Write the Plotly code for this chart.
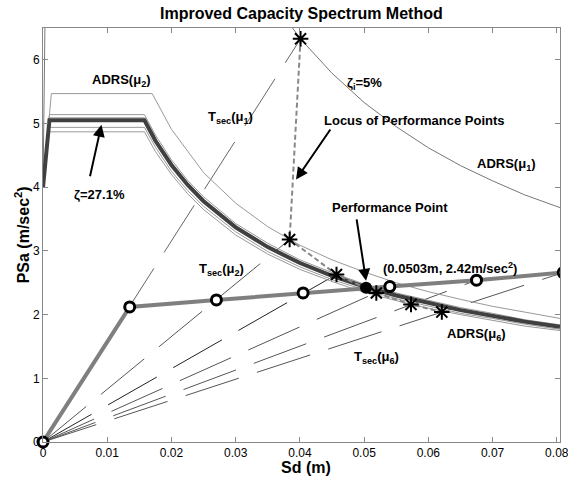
import plotly.graph_objects as go

# ---------------- data ----------------
# Capacity curve (bilinear) with its six trial points
CAP_SD = [0, 0.0135, 0.027, 0.0405, 0.054, 0.0675, 0.081]
CAP_SA = [0, 2.12, 2.23, 2.34, 2.44, 2.54, 2.66]

# ADRS for zeta = 27.1 % (thick) and the bundle of ADRS(mu3..mu6)
SD_ADRS = [0, 0.001, 0.0158, 0.0175, 0.02, 0.0225, 0.025, 0.03, 0.035, 0.04,
           0.045, 0.05, 0.055, 0.06, 0.065, 0.07, 0.075, 0.0805]
SA_FINAL = [4.0, 5.05, 5.05, 4.73, 4.35, 4.04, 3.78, 3.37, 3.06, 2.81,
            2.61, 2.44, 2.30, 2.18, 2.07, 1.98, 1.89, 1.81]
SA_MU3 = [4.0, 5.14, 5.14, 4.82, 4.43, 4.11, 3.85, 3.43, 3.12, 2.86,
          2.66, 2.48, 2.34, 2.22, 2.11, 2.02, 1.92, 1.84]
SA_MU4 = [4.0, 5.09, 5.09, 4.77, 4.38, 4.07, 3.81, 3.40, 3.08, 2.83,
          2.63, 2.46, 2.32, 2.20, 2.09, 2.00, 1.91, 1.82]
SA_MU5 = [4.0, 4.94, 4.94, 4.63, 4.25, 3.95, 3.70, 3.30, 2.99, 2.75,
          2.55, 2.39, 2.25, 2.13, 2.02, 1.94, 1.85, 1.77]
SA_MU6 = [4.0, 4.87, 4.87, 4.56, 4.20, 3.90, 3.65, 3.25, 2.95, 2.71,
          2.52, 2.35, 2.22, 2.10, 2.00, 1.91, 1.82, 1.75]

# ADRS(mu2)
SD_MU2 = [0, 0.0013, 0.017, 0.02, 0.025, 0.03, 0.035, 0.04, 0.045, 0.05,
          0.055, 0.06, 0.065, 0.07, 0.075, 0.0805]
SA_MU2 = [4.0, 5.47, 5.47, 4.91, 4.23, 3.75, 3.38, 3.09, 2.86, 2.67,
          2.50, 2.36, 2.24, 2.13, 2.04, 1.94]

# ADRS(mu1), zeta_i = 5 %
SD_MU1 = [0, 0.0006, 0.028, 0.03, 0.035, 0.04, 0.045, 0.05, 0.055, 0.06,
          0.065, 0.07, 0.075, 0.0805]
SA_MU1 = [4.0, 9.0, 9.0, 7.94, 7.04, 6.34, 5.79, 5.33, 4.95, 4.62,
          4.34, 4.10, 3.88, 3.68]

# Secant-period lines T_sec(mu_i): from origin to these end points
TSEC_END_SD = [0.0401, 0.0384, 0.0457, 0.054, 0.0675, 0.081]
TSEC_END_SA = [6.33, 3.18, 2.63, 2.44, 2.54, 2.66]

# Trial performance points (locus)
STAR_SD = [0.0401, 0.0384, 0.0457, 0.0519, 0.0573, 0.0621]
STAR_SA = [6.33, 3.18, 2.63, 2.34, 2.16, 2.04]

# Final performance point
PP_SD = [0.0503]
PP_SA = [2.42]

X_TICKS = [0, 0.01, 0.02, 0.03, 0.04, 0.05, 0.06, 0.07, 0.08]
X_TICK_TEXT = ["0", "0.01", "0.02", "0.03", "0.04", "0.05", "0.06", "0.07", "0.08"]
Y_TICKS = [0, 1, 2, 3, 4, 5, 6]

FONT = "Liberation Sans, Arial, sans-serif"

fig = go.Figure()

# secant lines
tsec_colors = ["#666", "#555", "#222", "#555", "#555", "#555"]
for i in range(len(TSEC_END_SD)):
    fig.add_trace(go.Scatter(
        x=[0, TSEC_END_SD[i]], y=[0, TSEC_END_SA[i]], mode="lines",
        line=dict(color=tsec_colors[i], width=1, dash="56px,19px"),
        hoverinfo="skip", showlegend=False))

# ADRS curves
fig.add_trace(go.Scatter(x=SD_MU1, y=SA_MU1, mode="lines",
                         line=dict(color="#777", width=1), showlegend=False))
fig.add_trace(go.Scatter(x=SD_MU2, y=SA_MU2, mode="lines",
                         line=dict(color="#999", width=1), showlegend=False))
for sa in [SA_MU3, SA_MU4, SA_MU5, SA_MU6]:
    fig.add_trace(go.Scatter(x=SD_ADRS, y=sa, mode="lines",
                             line=dict(color="#999", width=1), showlegend=False))
fig.add_trace(go.Scatter(x=SD_ADRS, y=SA_FINAL, mode="lines",
                         line=dict(color="#404040", width=4), showlegend=False))

# capacity curve
fig.add_trace(go.Scatter(x=CAP_SD, y=CAP_SA, mode="lines",
                         line=dict(color="#7f7f7f", width=4), showlegend=False))

# locus of performance points
fig.add_trace(go.Scatter(x=STAR_SD, y=STAR_SA, mode="lines",
                         line=dict(color="#888", width=2, dash="5px,3px"),
                         showlegend=False))

# capacity markers
fig.add_trace(go.Scatter(x=CAP_SD, y=CAP_SA, mode="markers", cliponaxis=False,
                         marker=dict(symbol="circle", size=10, color="white",
                                     line=dict(color="black", width=3)),
                         showlegend=False))
# last capacity point lies just past the axis edge: draw it as a pixel-sized shape
fig.add_shape(type="circle", xref="x", yref="y", xsizemode="pixel", ysizemode="pixel",
              xanchor=CAP_SD[-1], yanchor=CAP_SA[-1], x0=-5, x1=5, y0=-5, y1=5,
              line=dict(color="black", width=3), fillcolor="white", layer="above")

# stars
fig.add_trace(go.Scatter(x=STAR_SD, y=STAR_SA, mode="markers", cliponaxis=False,
                         marker=dict(symbol="asterisk-open", size=13, color="black",
                                     line=dict(color="black", width=2)),
                         showlegend=False))

# performance point
fig.add_trace(go.Scatter(x=PP_SD, y=PP_SA, mode="markers", cliponaxis=False,
                         marker=dict(symbol="circle", size=12, color="black"),
                         showlegend=False))

# ---------------- annotations ----------------
def txt(x, y, s, size=13):
    fig.add_annotation(x=x, y=y, xref="x", yref="y", text=s, showarrow=False,
                       font=dict(family=FONT, size=size, color="black"),
                       xanchor="center", yanchor="middle")

def arrow(xh, yh, xt, yt):
    fig.add_annotation(x=xh, y=yh, ax=xt, ay=yt, xref="x", yref="y",
                       axref="x", ayref="y", text="", showarrow=True,
                       arrowhead=2, arrowsize=1.2, arrowwidth=2, arrowcolor="black")

txt(0.0122, 5.67, "<b>ADRS(μ<sub>2</sub>)</b>")
txt(0.0088, 3.88, "<b>ζ=27.1%</b>")
arrow(0.0091, 4.98, 0.00727, 4.15)
txt(0.0292, 5.09, "<b>T<sub>sec</sub>(μ<sub>1</sub>)</b>")
txt(0.0501, 5.63, "<b>ζ<sub>i</sub>=5%</b>")
txt(0.0579, 5.04, "<b>Locus of Performance Points</b>")
arrow(0.0394, 4.12, 0.0449, 4.93)
txt(0.0722, 4.36, "<b>ADRS(μ<sub>1</sub>)</b>")
txt(0.0540, 3.68, "<b>Performance Point</b>")
arrow(0.0503, 2.53, 0.0488, 3.52)
txt(0.0633, 2.73, "<b>(0.0503m, 2.42m/sec<sup>2</sup>)</b>")
txt(0.0278, 2.71, "<b>T<sub>sec</sub>(μ<sub>2</sub>)</b>")
txt(0.0675, 1.69, "<b>ADRS(μ<sub>6</sub>)</b>")
txt(0.0520, 1.32, "<b>T<sub>sec</sub>(μ<sub>6</sub>)</b>")

# title and axis titles (paper coords)
fig.add_annotation(x=0.5, y=1.036, xref="paper", yref="paper", showarrow=False,
                   text="<b>Improved Capacity Spectrum Method</b>",
                   font=dict(family=FONT, size=16, color="black"),
                   xanchor="center", yanchor="middle")
fig.add_annotation(x=0.508, y=-0.062, xref="paper", yref="paper", showarrow=False,
                   text="<b>Sd (m)</b>",
                   font=dict(family=FONT, size=16, color="black"),
                   xanchor="center", yanchor="middle")
fig.add_annotation(x=-0.04, y=0.5, xref="paper", yref="paper", showarrow=False,
                   text="<b>PSa (m/sec<sup>2</sup>)</b>", textangle=-90,
                   font=dict(family=FONT, size=16, color="black"),
                   xanchor="center", yanchor="middle")

axis_common = dict(showgrid=False, zeroline=False, showline=True, linecolor="#888",
                   linewidth=1, mirror="ticks", ticks="inside", ticklen=5,
                   tickcolor="#888", tickfont=dict(family=FONT, size=12, color="black"),
                   automargin=False)

fig.update_xaxes(range=[0, 0.0805], tickvals=X_TICKS, ticktext=X_TICK_TEXT,
                 ticklabeloverflow="allow", **axis_common)
fig.update_yaxes(range=[0, 6.5], tickvals=Y_TICKS, **axis_common)

fig.update_layout(width=568, height=483, margin=dict(l=43, r=8, t=28, b=41),
                  plot_bgcolor="white", paper_bgcolor="white", showlegend=False,
                  font=dict(family=FONT), hovermode=False)

fig.write_html("out.html", config={"displayModeBar": False},
               post_script="document.body.style.margin='0px';document.body.style.overflow='hidden';")
